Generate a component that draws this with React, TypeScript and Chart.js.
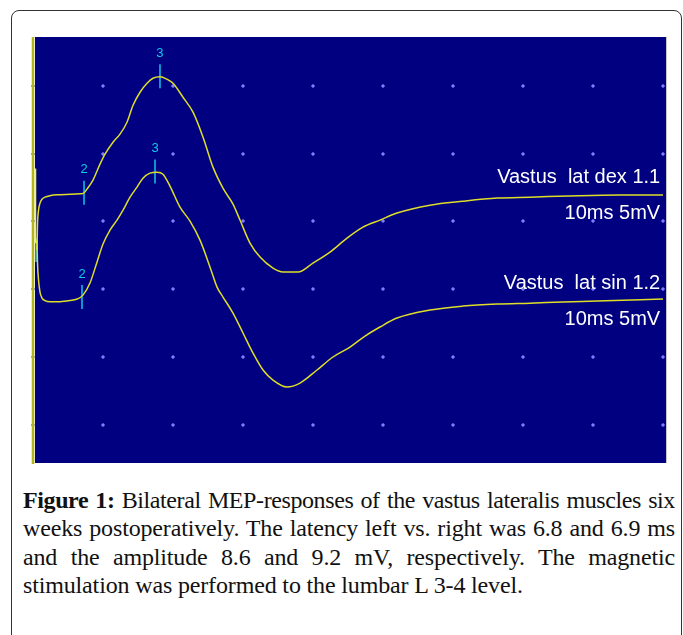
import { useEffect, useRef } from "react";
import { Chart, registerables } from "chart.js";
Chart.register(...registerables);

// time in ms, amplitude in mV (5 mV per division, 10 ms per division)
const xTicks = [0, 10, 20, 30, 40, 50, 60, 70, 80, 90];
const yTicks = [0, 5, 10, 15, 20, 25];

const dexTime = [0.57, 0.64, 0.79, 1.0, 1.29, 1.71, 2.43, 3.86, 5.29, 7.14, 7.71, 8.57, 9.57, 10.29, 11.43, 12.43, 13.43, 14.29, 15.29, 16.29, 17.14, 18.14, 19.14, 20.0, 21.43, 22.86, 24.29, 25.71, 27.14, 28.57, 29.57, 31.0, 32.43, 34.29, 35.71, 37.86, 40.0, 42.43, 44.86, 47.14, 49.57, 52.0, 56.71, 61.43, 66.29, 71.0, 78.14, 83.86, 90.0];
const dexAmp = [12.89, 14.73, 15.83, 16.35, 16.64, 16.79, 16.9, 16.97, 17.01, 17.05, 17.38, 18.04, 19.22, 19.96, 20.84, 21.43, 22.31, 23.56, 24.52, 25.18, 25.55, 25.66, 25.48, 25.18, 24.15, 23.05, 21.21, 19.0, 17.45, 16.27, 15.1, 13.4, 12.37, 11.56, 11.27, 11.27, 11.93, 12.74, 13.77, 14.58, 15.1, 15.62, 16.2, 16.49, 16.72, 16.79, 16.9, 16.94, 16.94];

const sinTime = [0.57, 0.64, 0.79, 1.0, 1.29, 1.71, 2.43, 3.86, 5.29, 6.29, 7.14, 8.14, 9.14, 10.0, 11.0, 12.0, 12.86, 13.86, 14.86, 15.71, 16.71, 17.71, 18.57, 19.57, 21.0, 22.43, 23.86, 25.29, 26.29, 27.14, 28.57, 30.0, 31.43, 32.86, 34.29, 36.29, 38.14, 40.57, 42.86, 45.29, 47.43, 49.57, 52.0, 56.71, 61.43, 66.29, 71.0, 75.71, 80.57, 90.0];
const sinAmp = [13.62, 12.0, 10.68, 9.79, 9.35, 9.17, 9.09, 9.09, 9.17, 9.28, 9.57, 10.46, 12.0, 13.33, 14.36, 15.1, 15.83, 16.79, 17.53, 18.19, 18.56, 18.63, 18.48, 17.6, 16.05, 15.02, 13.62, 11.63, 10.16, 9.43, 8.25, 6.78, 5.3, 4.05, 3.31, 2.8, 3.09, 4.05, 5.01, 5.74, 6.55, 7.22, 7.88, 8.47, 8.76, 8.91, 8.98, 9.06, 9.13, 9.28];

const markerTime = [7.29, 18.14, 17.43, 7.0, 0.43];
const markerAmp = [17.12, 25.7, 18.67, 9.43, 12.89];
const markerLabels = ["2", "3", "3", "2", ""];

const traceLabels = ["Vastus  lat dex 1.1", "10ms 5mV", "Vastus  lat sin 1.2", "10ms 5mV"];
const traceLabelAmp = [18.26, 15.61, 10.46, 7.81];
const traceLabelTime = [89.6, 89.6, 89.6, 89.6];

const stimTime = [0, 0];
const stimAmp = [-3, 29];
const stimBrightTime = [0.36, 0.36];
const stimBrightAmp = [13.4, 18.9];
const stimPaleTime = [0.1, 0.1];
const stimPaleAmp = [-3, 9.2];

const X_MIN = -0.4286;
const X_MAX = 90.571;
const Y_MIN = -2.874;
const Y_MAX = 28.59;

const CYAN = "#10c8e4";
const TRACE = "rgb(222,222,40)";

const overlayPlugin = {
  id: "overlay",
  beforeDatasetsDraw(chart: any) {
    const ctx = chart.ctx;
    const xs = chart.scales.x;
    const ys = chart.scales.y;
    ctx.save();
    for (const t of xTicks) {
      for (const v of yTicks) {
        const px = Math.round(xs.getPixelForValue(t));
        const py = Math.round(ys.getPixelForValue(v));
        ctx.fillStyle = "rgba(110,110,235,0.7)";
        ctx.fillRect(px - 1, py - 2, 2, 4);
        ctx.fillRect(px - 2, py - 1, 4, 2);
        ctx.fillStyle = "rgb(125,125,250)";
        ctx.fillRect(px - 1, py - 1, 2, 2);
      }
    }
    ctx.restore();
  },
  afterDatasetsDraw(chart: any) {
    const ctx = chart.ctx;
    const xs = chart.scales.x;
    const ys = chart.scales.y;
    ctx.save();
    const meta = chart.getDatasetMeta(5);
    ctx.fillStyle = CYAN;
    ctx.font = "13px 'Liberation Sans', Arial, sans-serif";
    ctx.textAlign = "center";
    ctx.textBaseline = "middle";
    meta.data.forEach((pt: any, i: number) => {
      if (markerLabels[i]) ctx.fillText(markerLabels[i], pt.x, pt.y - 23);
    });
    ctx.fillStyle = "#ffffff";
    ctx.font = "20px 'Liberation Sans', Arial, sans-serif";
    ctx.textAlign = "right";
    traceLabels.forEach((txt, i) => {
      ctx.fillText(txt, xs.getPixelForValue(traceLabelTime[i]), ys.getPixelForValue(traceLabelAmp[i]));
    });
    ctx.restore();
  },
};

function pts(xa: number[], ya: number[]) {
  return xa.map((x, i) => ({ x, y: ya[i] }));
}

function MepChart() {
  const ref = useRef<HTMLCanvasElement | null>(null);
  useEffect(() => {
    if (!ref.current) return;
    const chart = new Chart(ref.current, {
      type: "line",
      data: {
        datasets: [
          { data: pts(stimTime, stimAmp), borderColor: "rgb(180,180,30)", borderWidth: 2.5, pointRadius: 0 },
          { data: pts(stimBrightTime, stimBrightAmp), borderColor: "rgb(255,255,0)", borderWidth: 1.5, pointRadius: 0 },
          { data: pts(stimPaleTime, stimPaleAmp), borderColor: "rgb(235,235,200)", borderWidth: 1.2, pointRadius: 0 },
          { data: pts(dexTime, dexAmp), borderColor: TRACE, borderWidth: 1.5, pointRadius: 0, cubicInterpolationMode: "monotone" },
          { data: pts(sinTime, sinAmp), borderColor: TRACE, borderWidth: 1.5, pointRadius: 0, cubicInterpolationMode: "monotone" },
          {
            data: pts(markerTime, markerAmp),
            showLine: false,
            pointStyle: "line",
            rotation: 90,
            pointRadius: 12,
            pointBorderColor: CYAN,
            pointBorderWidth: 1.5,
            borderColor: CYAN,
          } as any,
        ],
      },
      options: {
        animation: false,
        responsive: false,
        maintainAspectRatio: false,
        layout: { padding: 0, autoPadding: false },
        events: [],
        plugins: { legend: { display: false }, tooltip: { enabled: false } },
        scales: {
          x: { type: "linear", min: X_MIN, max: X_MAX, display: false },
          y: { type: "linear", min: Y_MIN, max: Y_MAX, display: false },
        },
      },
      plugins: [overlayPlugin],
    });
    return () => chart.destroy();
  }, []);
  return (
    <canvas
      ref={ref}
      width={637}
      height={427}
      style={{ position: "absolute", left: 30, top: 37, width: 637, height: 427 }}
    />
  );
}

const captionLines = [
  "Bilateral MEP-responses of the vastus lateralis muscles six",
  "weeks postoperatively. The latency left vs. right was 6.8 and 6.9 ms",
  "and the amplitude 8.6 and 9.2 mV, respectively. The magnetic",
  "stimulation was performed to the lumbar L 3-4 level.",
];

export default function App() {
  const lineStyle: any = {
    textAlign: "justify",
    textAlignLast: "justify",
    whiteSpace: "nowrap",
    height: 28.3,
  };
  return (
    <div style={{ position: "absolute", left: 0, top: 0, width: 683, height: 635, overflow: "hidden", background: "#fff" }}>
      <div
        style={{
          position: "absolute",
          left: 11,
          top: 10,
          width: 671,
          height: 640,
          border: "1.5px solid #333",
          borderRadius: 8,
          boxSizing: "border-box",
        }}
      />
      <div style={{ position: "absolute", left: 35, top: 37, width: 631, height: 426, background: "#000080" }} />
      <div style={{ position: "absolute", left: 666, top: 37, width: 1, height: 426, background: "#c8c8c8" }} />
      <MepChart />
      <div
        style={{
          position: "absolute",
          left: 23,
          top: 486,
          width: 652,
          fontFamily: "'Liberation Serif', 'DejaVu Serif', serif",
          fontSize: 24,
          letterSpacing: "-0.15px",
          lineHeight: "28.3px",
          color: "#111",
        }}
      >
        <div style={{ ...lineStyle, letterSpacing: "-0.4px" }}>
          <b>Figure 1:</b> {captionLines[0]}
        </div>
        <div style={lineStyle}>{captionLines[1]}</div>
        <div style={lineStyle}>{captionLines[2]}</div>
        <div style={{ height: 28.3 }}>{captionLines[3]}</div>
      </div>
    </div>
  );
}
